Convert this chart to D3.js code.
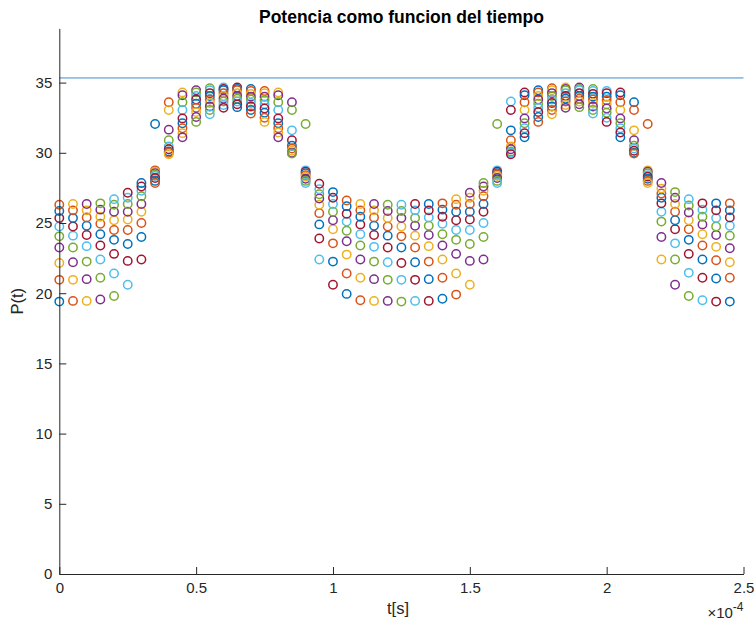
<!DOCTYPE html>
<html>
<head>
<meta charset="utf-8">
<script src="https://cdn.jsdelivr.net/npm/d3@7"></script>
<style>
  html, body { margin: 0; padding: 0; background: #ffffff; }
  svg { display: block; font-family: "Liberation Sans", Arial, Helvetica, sans-serif; }
</style>
</head>
<body>
<svg id="chart" width="754" height="624"></svg>
<script>
// Sample times, in units of 1e-4 s (the axis shows the x10^-4 multiplier)
const tValues = [
  0.00, 0.05, 0.10, 0.15, 0.20, 0.25, 0.30, 0.35, 0.40, 0.45,
  0.50, 0.55, 0.60, 0.65, 0.70, 0.75, 0.80, 0.85, 0.90, 0.95,
  1.00, 1.05, 1.10, 1.15, 1.20, 1.25, 1.30, 1.35, 1.40, 1.45,
  1.50, 1.55, 1.60, 1.65, 1.70, 1.75, 1.80, 1.85, 1.90, 1.95,
  2.00, 2.05, 2.10, 2.15, 2.20, 2.25, 2.30, 2.35, 2.40, 2.45
];

// P(t) for each sample time: nine overlapping series per time step.
// Entry m of column j belongs to series j+m (series index sets the colour).
const powerValues = [
  [19.40, 20.95, 22.15, 23.25, 24.05, 24.75, 25.35, 25.85, 26.30],
  [19.45, 20.95, 22.20, 23.25, 24.10, 24.75, 25.35, 25.90, 26.35],
  [19.45, 21.00, 22.25, 23.35, 24.15, 24.80, 25.40, 25.90, 26.35],
  [19.55, 21.10, 22.40, 23.40, 24.20, 24.95, 25.45, 25.95, 26.40],
  [19.80, 21.40, 22.80, 23.80, 24.50, 25.20, 25.80, 26.30, 26.70],
  [20.60, 22.30, 23.50, 24.50, 25.25, 25.80, 26.35, 26.80, 27.15],
  [22.40, 24.00, 25.00, 25.80, 26.35, 26.90, 27.30, 27.60, 27.85],
  [32.05, 28.75, 28.65, 28.55, 28.45, 28.35, 28.20, 28.00, 27.85],
  [33.60, 33.05, 31.65, 30.90, 30.45, 30.25, 30.10, 30.00, 29.90],
  [34.30, 34.10, 33.60, 33.05, 32.45, 32.10, 31.75, 31.40, 31.10],
  [34.45, 34.30, 34.05, 33.80, 33.50, 33.20, 32.90, 32.55, 32.20],
  [34.60, 34.45, 34.25, 34.05, 33.80, 33.55, 33.30, 33.05, 32.75],
  [34.65, 34.55, 34.45, 34.25, 34.05, 33.85, 33.65, 33.40, 33.20],
  [34.65, 34.55, 34.45, 34.25, 34.05, 33.85, 33.65, 33.45, 33.25],
  [34.55, 34.40, 34.20, 34.00, 33.80, 33.55, 33.30, 33.05, 32.80],
  [34.40, 34.25, 34.00, 33.75, 33.45, 33.15, 32.85, 32.50, 32.20],
  [34.30, 34.10, 33.60, 33.05, 32.45, 32.10, 31.75, 31.45, 31.10],
  [33.60, 33.05, 31.60, 30.90, 30.50, 30.30, 30.15, 30.00, 29.95],
  [32.05, 28.75, 28.65, 28.55, 28.40, 28.30, 28.15, 28.00, 27.85],
  [22.40, 23.90, 24.90, 25.70, 26.30, 26.75, 27.05, 27.40, 27.80],
  [20.60, 22.25, 23.55, 24.55, 25.20, 25.80, 26.35, 26.80, 27.20],
  [19.95, 21.40, 22.75, 23.70, 24.45, 25.10, 25.65, 26.20, 26.60],
  [19.50, 21.10, 22.40, 23.40, 24.20, 24.90, 25.45, 25.90, 26.35],
  [19.45, 21.00, 22.25, 23.30, 24.15, 24.80, 25.40, 25.90, 26.35],
  [19.45, 20.95, 22.20, 23.25, 24.10, 24.75, 25.35, 25.85, 26.30],
  [19.40, 20.95, 22.15, 23.25, 24.05, 24.75, 25.35, 25.85, 26.30],
  [19.45, 20.95, 22.20, 23.25, 24.10, 24.80, 25.35, 25.90, 26.35],
  [19.45, 21.00, 22.25, 23.35, 24.15, 24.80, 25.40, 25.90, 26.35],
  [19.60, 21.10, 22.40, 23.40, 24.20, 24.95, 25.45, 25.95, 26.40],
  [19.90, 21.40, 22.80, 23.80, 24.50, 25.20, 25.80, 26.30, 26.70],
  [20.60, 22.30, 23.50, 24.50, 25.25, 25.80, 26.35, 26.80, 27.15],
  [22.40, 24.00, 25.00, 25.80, 26.35, 26.90, 27.30, 27.60, 27.85],
  [32.05, 28.75, 28.65, 28.55, 28.45, 28.35, 28.20, 28.00, 27.85],
  [33.65, 33.05, 31.60, 30.90, 30.45, 30.25, 30.10, 30.00, 29.90],
  [34.30, 34.10, 33.60, 33.05, 32.45, 32.10, 31.75, 31.40, 31.10],
  [34.45, 34.30, 34.05, 33.80, 33.50, 33.20, 32.90, 32.55, 32.20],
  [34.60, 34.45, 34.25, 34.05, 33.80, 33.55, 33.30, 33.05, 32.75],
  [34.65, 34.55, 34.45, 34.25, 34.05, 33.85, 33.65, 33.40, 33.20],
  [34.65, 34.55, 34.45, 34.25, 34.05, 33.85, 33.65, 33.45, 33.25],
  [34.55, 34.40, 34.20, 34.00, 33.80, 33.55, 33.30, 33.05, 32.80],
  [34.40, 34.25, 34.00, 33.75, 33.45, 33.15, 32.85, 32.50, 32.20],
  [34.30, 34.10, 33.60, 33.05, 32.45, 32.10, 31.75, 31.45, 31.10],
  [33.60, 33.05, 31.60, 30.90, 30.50, 30.30, 30.15, 30.00, 29.95],
  [32.05, 28.75, 28.65, 28.55, 28.40, 28.30, 28.15, 28.00, 27.85],
  [22.40, 24.00, 25.10, 25.80, 26.40, 26.80, 27.10, 27.45, 27.85],
  [20.60, 22.40, 23.55, 24.55, 25.20, 25.80, 26.35, 26.80, 27.20],
  [19.80, 21.45, 22.80, 23.80, 24.55, 25.20, 25.75, 26.25, 26.70],
  [19.50, 21.10, 22.40, 23.40, 24.20, 24.90, 25.45, 25.95, 26.40],
  [19.40, 21.05, 22.35, 23.30, 24.15, 24.75, 25.35, 25.90, 26.40],
  [19.40, 21.10, 22.20, 23.20, 24.10, 24.80, 25.40, 25.90, 26.40]
];

// Horizontal reference level
const referenceLevel = 35.33;
const referenceSpan = [0, 2.5];

// Axis ticks
const xTicks = [0, 0.5, 1, 1.5, 2, 2.5];
const yTicks = [0, 5, 10, 15, 20, 25, 30, 35];

// Series colour cycle
const colorCycle = ["#0072BD", "#D95319", "#EDB120", "#7E2F8E", "#77AC30", "#4DBEEE", "#A2142F"];

const titleText = "Potencia como funcion del tiempo";
const xLabelText = "t[s]";
const yLabelText = "P(t)";

const svg = d3.select("#chart");
const plot = { left: 59.3, right: 743.5, top: 28.4, bottom: 574 };
const ink = "#262626";
const tickFont = "15px";

const x = d3.scaleLinear().domain([0, 2.5]).range([plot.left, plot.right]);
const y = d3.scaleLinear().domain([0, 38.86]).range([plot.bottom, plot.top]);

// Flatten the columns into points tagged with their series index
const points = [];
powerValues.forEach((col, j) => {
  col.forEach((v, m) => points.push({ t: tValues[j], v, series: j + m }));
});
points.sort((a, b) => a.series - b.series);

// Markers
svg.append("g")
  .selectAll("circle")
  .data(points)
  .join("circle")
  .attr("cx", d => x(d.t))
  .attr("cy", d => y(d.v))
  .attr("r", 4.2)
  .attr("fill", "none")
  .attr("stroke", d => colorCycle[d.series % colorCycle.length])
  .attr("stroke-width", 1.5);

// Reference line
svg.append("line")
  .attr("x1", x(referenceSpan[0]))
  .attr("x2", x(referenceSpan[1]))
  .attr("y1", y(referenceLevel))
  .attr("y2", y(referenceLevel))
  .attr("stroke", "#3a8ed2")
  .attr("stroke-width", 1);

// Axes
const xAxis = d3.axisBottom(x)
  .tickValues(xTicks)
  .tickFormat(d3.format("~g"))
  .tickSizeInner(-7)
  .tickSizeOuter(0)
  .tickPadding(8);
const yAxis = d3.axisLeft(y)
  .tickValues(yTicks)
  .tickFormat(d3.format("d"))
  .tickSizeInner(-7)
  .tickSizeOuter(0)
  .tickPadding(7);

const gx = svg.append("g")
  .attr("transform", `translate(0,${plot.bottom})`)
  .call(xAxis);
const gy = svg.append("g")
  .attr("transform", `translate(${plot.left},0)`)
  .call(yAxis);

[gx, gy].forEach(g => {
  g.select(".domain").attr("stroke", ink).attr("stroke-width", 1);
  g.selectAll(".tick line").attr("stroke", ink).attr("stroke-width", 1);
  g.selectAll(".tick text")
    .attr("fill", ink)
    .style("font-size", tickFont)
    .style("font-family", "'Liberation Sans', Arial, sans-serif");
});

// Exponent multiplier for the time axis
const mult = svg.append("text")
  .attr("x", plot.right)
  .attr("y", 618)
  .attr("text-anchor", "end")
  .attr("fill", ink)
  .style("font-size", tickFont);
mult.append("tspan").text("\u00d710");
mult.append("tspan").attr("dy", -7).style("font-size", "12px").text("-4");

// Axis labels
svg.append("text")
  .attr("x", 398)
  .attr("y", 614)
  .attr("text-anchor", "middle")
  .attr("fill", ink)
  .style("font-size", "16.5px")
  .text(xLabelText);

svg.append("text")
  .attr("transform", `translate(23,${(plot.top + plot.bottom) / 2}) rotate(-90)`)
  .attr("text-anchor", "middle")
  .attr("fill", ink)
  .style("font-size", "16.5px")
  .text(yLabelText);

// Title
svg.append("text")
  .attr("x", (plot.left + plot.right) / 2)
  .attr("y", 23)
  .attr("text-anchor", "middle")
  .attr("fill", "#000")
  .style("font-size", "17.5px")
  .style("font-weight", "bold")
  .text(titleText);
</script>
</body>
</html>
